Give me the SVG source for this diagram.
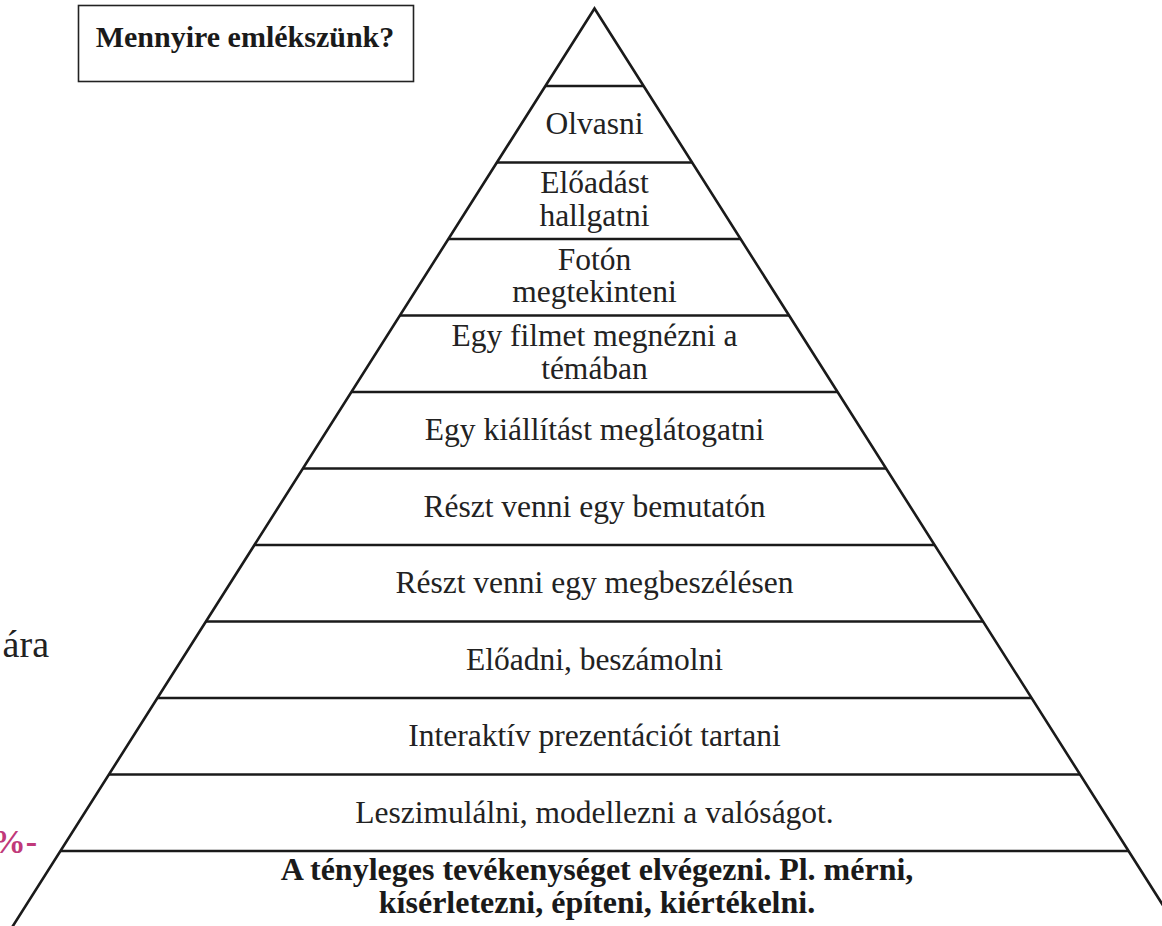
<svg xmlns="http://www.w3.org/2000/svg" width="1162" height="926" viewBox="0 0 1162 926">
<style>
.ln{stroke:#1a1a1a;stroke-width:2.6;fill:none}
.t{font-family:"Liberation Serif","Times New Roman",serif;font-size:31.5px;fill:#222;text-anchor:middle}
.b{font-family:"Liberation Serif","Times New Roman",serif;font-size:32px;font-weight:bold;fill:#1a1a1a;text-anchor:middle}
</style>
<rect width="1162" height="926" fill="#fff"/>
<g id="bg-text">
<text x="49" y="657" font-family="Liberation Serif, serif" font-size="38" fill="#222" text-anchor="end">ára</text>
<text x="37" y="853" font-family="Liberation Serif, serif" font-size="34" font-weight="bold" fill="#c0397a" text-anchor="end">%-</text>
</g>
<g id="title">
<rect x="78.5" y="5.5" width="335" height="76" fill="#fff" stroke="#222" stroke-width="1.6"/>
<text class="b" x="245" y="47" style="font-size:30px">Mennyire emlékszünk?</text>
</g>
<g id="pyramid">
<polyline class="ln" points="4,940 594.5,8.5 1185,940" stroke-linejoin="miter"/>
</g>
<g id="tiers">
<g id="tier-0"><line class="ln" x1="545.4" y1="86" x2="643.6" y2="86"/></g>
<g id="tier-1"><line class="ln" x1="496.9" y1="162.5" x2="692.1" y2="162.5"/><text class="t" x="594.5" y="133.5">Olvasni</text></g>
<g id="tier-2"><line class="ln" x1="448.4" y1="239" x2="740.6" y2="239"/><text class="t" x="594.5" y="193">Előadást</text><text class="t" x="594.5" y="225.5">hallgatni</text></g>
<g id="tier-3"><line class="ln" x1="399.9" y1="315.5" x2="789.1" y2="315.5"/><text class="t" x="594.5" y="269.5">Fotón</text><text class="t" x="594.5" y="302">megtekinteni</text></g>
<g id="tier-4"><line class="ln" x1="351.4" y1="392" x2="837.6" y2="392"/><text class="t" x="594.5" y="346">Egy filmet megnézni a</text><text class="t" x="594.5" y="378.5">témában</text></g>
<g id="tier-5"><line class="ln" x1="303" y1="468.5" x2="886" y2="468.5"/><text class="t" x="594.5" y="440">Egy kiállítást meglátogatni</text></g>
<g id="tier-6"><line class="ln" x1="254.5" y1="545" x2="934.5" y2="545"/><text class="t" x="594.5" y="516.5">Részt venni egy bemutatón</text></g>
<g id="tier-7"><line class="ln" x1="206" y1="621.5" x2="983" y2="621.5"/><text class="t" x="594.5" y="593">Részt venni egy megbeszélésen</text></g>
<g id="tier-8"><line class="ln" x1="157.5" y1="698" x2="1031.5" y2="698"/><text class="t" x="594.5" y="669.5">Előadni, beszámolni</text></g>
<g id="tier-9"><line class="ln" x1="109" y1="774.5" x2="1080" y2="774.5"/><text class="t" x="594.5" y="746">Interaktív prezentációt tartani</text></g>
<g id="tier-10"><line class="ln" x1="60.5" y1="851" x2="1128.5" y2="851"/><text class="t" x="594.5" y="822.5">Leszimulálni, modellezni a valóságot.</text></g>
<g id="tier-11"><text class="b" x="597" y="880">A tényleges tevékenységet elvégezni. Pl. mérni,</text><text class="b" x="597" y="913">kísérletezni, építeni, kiértékelni.</text></g>
</g>
</svg>
